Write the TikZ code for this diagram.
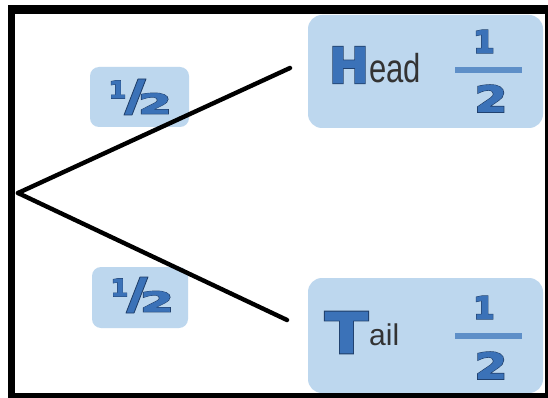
\documentclass[tikz,border=0pt]{standalone}
\usepackage{fontspec}
\setmainfont{Liberation Sans}
\newfontfamily\heavydark[FakeBold=5]{DejaVu Sans Bold}
\newfontfamily\heavyblue[FakeBold=2]{DejaVu Sans Bold}
\definecolor{boxfill}{HTML}{BDD7EE}
\definecolor{txtblue}{HTML}{3B72B8}
\definecolor{txtdark}{HTML}{1E3C66}
\definecolor{barblue}{HTML}{5E8FC8}
\definecolor{graytxt}{HTML}{333333}
% outlined glyph: name, position, node options, size, text
\newcommand{\otext}[5]{%
  \node[glyph, #3, text=txtdark] (#1d) at (#2) {\heavydark\fontsize{#4}{#4}\selectfont #5};
  \node[glyph, #3, text=txtblue] (#1) at (#2) {\heavyblue\fontsize{#4}{#4}\selectfont #5};}
\tikzset{
  rbox/.style={fill=boxfill, rounded corners=14pt, draw=none},
  branch/.style={line width=4.4pt, black, line cap=round},
  glyph/.style={inner sep=0pt, anchor=center},
  smalltxt/.style={inner sep=0pt, anchor=base west, text=graytxt},
  fracbar/.style={fill=barblue, draw=none},
  slash/.style={fill=txtblue, draw=txtdark, line width=0.8pt, line join=round}
}
\begin{document}
\begin{tikzpicture}[x=1pt,y=-1pt]
\useasboundingbox (0,0) rectangle (548,398);
\fill[white] (0,0) rectangle (548,398);
% boxes
\fill[rbox] (308,15) rectangle (543,128);
\fill[rbox] (308,278) rectangle (543,393);
\fill[rbox, rounded corners=9pt] (90,67) rectangle (189,127);
\fill[rbox, rounded corners=9pt] (92,267) rectangle (188,328);
% branches
\coordinate (root) at (18,193);
\coordinate (hend) at (290,68);
\coordinate (tend) at (287,320);
\draw[branch] (root) -- (hend);
\draw[branch] (root) -- (tend);
% Head
\otext{H}{349,65}{xscale=0.97}{49}{H}
\node[smalltxt, yscale=1.3, font=\fontsize{31}{31}\selectfont] (ead) at (369,83) {ead};
\otext{hone}{484,41.5}{xscale=1.0}{31}{1}
\fill[fracbar] (455,67.5) rectangle (522,73);
\otext{htwo}{491,98.5}{xscale=1.3}{36}{2}
% Tail
\otext{T}{346.5,332.5}{xscale=1.12}{56}{T}
\node[smalltxt, font=\fontsize{30}{30}\selectfont] (ail) at (369,345) {ail};
\otext{tone}{484,307.5}{xscale=1.0}{31}{1}
\fill[fracbar] (455,332.5) rectangle (522,338.5);
\otext{ttwo}{491,365.5}{xscale=1.3}{36}{2}
% halves
\otext{aone}{117.5,89.5}{xscale=1.05}{24}{1}
\fill[slash] (124,115) -- (132,115) -- (146,79) -- (138,79) -- cycle;
\otext{atwo}{155,103.5}{xscale=1.75}{27.5}{2}
\otext{bone}{119.5,287.5}{xscale=1.05}{24}{1}
\fill[slash] (126,313) -- (134,313) -- (148,277) -- (140,277) -- cycle;
\otext{btwo}{157,301.5}{xscale=1.75}{27.5}{2}
% frame
\fill[black] (8,5) rectangle (548,14);
\fill[black] (8,5) rectangle (15,398);
\fill[black] (8,393) rectangle (548,398);
\fill[black] (545,5) rectangle (548,398);
\end{tikzpicture}
\end{document}
